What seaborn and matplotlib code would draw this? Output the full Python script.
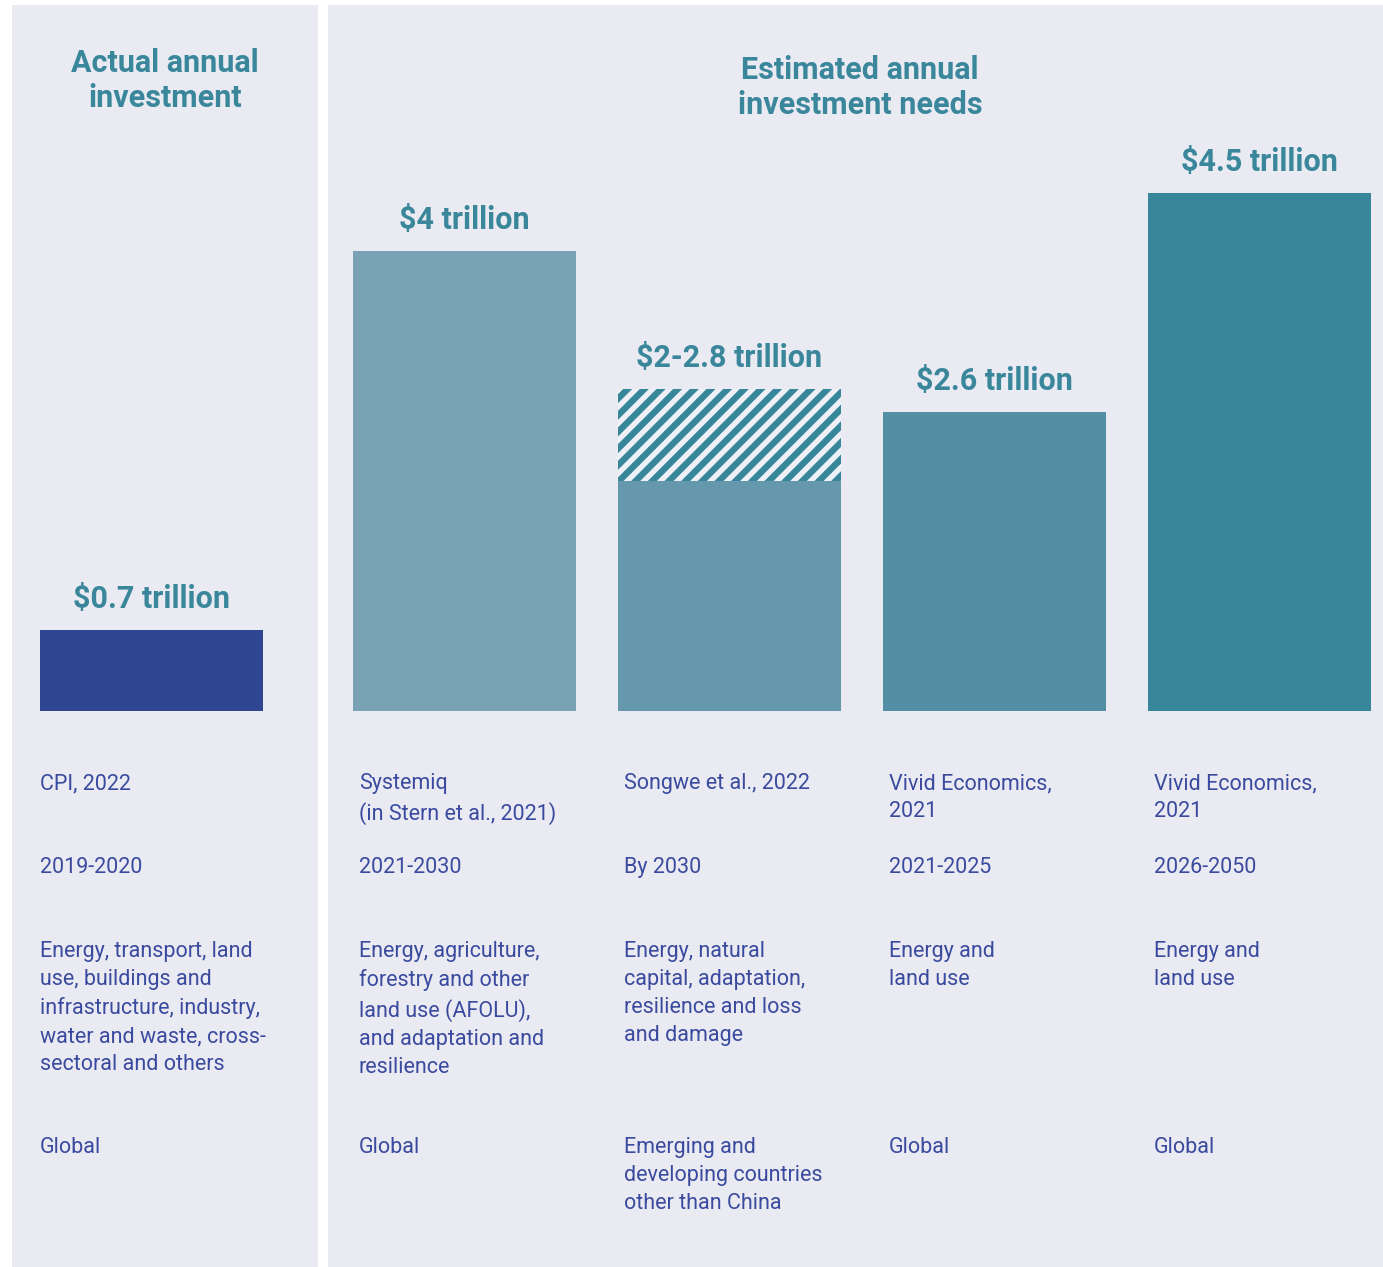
import matplotlib
matplotlib.use("Agg")
import matplotlib.pyplot as plt
import seaborn as sns
import pandas as pd

# ---- data -------------------------------------------------------------
actual_period = ["2019-2020"]
actual_value = [0.7]
actual_label = ["$0.7 trillion"]

need_period = ["2021-2030", "By 2030", "2021-2025", "2026-2050"]
need_low = [4.0, 2.0, 2.6, 4.5]
need_high = [4.0, 2.8, 2.6, 4.5]
need_label = ["$4 trillion", "$2-2.8 trillion", "$2.6 trillion", "$4.5 trillion"]

sources = ["CPI, 2022",
           "Systemiq\n(in Stern et al., 2021)",
           "Songwe et al., 2022",
           "Vivid Economics,\n2021",
           "Vivid Economics,\n2021"]
periods = actual_period + need_period
sectors = ["Energy, transport, land\nuse, buildings and\ninfrastructure, industry,\nwater and waste, cross-\nsectoral and others",
           "Energy, agriculture,\nforestry and other\nland use (AFOLU),\nand adaptation and\nresilience",
           "Energy, natural\ncapital, adaptation,\nresilience and loss\nand damage",
           "Energy and\nland use",
           "Energy and\nland use"]
regions = ["Global", "Global",
           "Emerging and\ndeveloping countries\nother than China",
           "Global", "Global"]

actual_color = ["#2F4592"]
need_colors = ["#79A2B5", "#6698AD", "#528FA5", "#37869A"]
title_color = "#3A879C"
text_color = "#3A4A9E"
hatch_color = "#37869A"

# ---- styling ----------------------------------------------------------
sns.set_theme(style="dark")
plt.rcParams["font.family"] = ["Roboto", "DejaVu Sans"]
plt.rcParams["hatch.linewidth"] = 4.6

W, H = 1383, 1267
fig = plt.figure(figsize=(W / 100, H / 100), dpi=100)
fig.patch.set_facecolor("white")


def px_axes(x0, y0, x1, y1):
    return fig.add_axes([x0 / W, 1 - y1 / H, (x1 - x0) / W, (y1 - y0) / H])


ax1 = px_axes(12, 5, 318, 1267)
ax2 = px_axes(328, 5, 1383, 1267)

YLIM = (-4.835, 6.139)
BAR_W = 0.8415

# actual investment panel
df_a = pd.DataFrame({"period": actual_period, "value": actual_value})
sns.barplot(data=df_a, x="period", y="value", hue="period", palette=actual_color,
            legend=False, width=BAR_W, saturation=1, linewidth=0, ax=ax1)
ax1.set_xlim(-0.526, 0.628)

# investment needs panel: hatched range first, solid lower bound on top
df_n = pd.DataFrame({"period": need_period, "low": need_low, "high": need_high})
sns.barplot(data=df_n, x="period", y="high", color="#EFF0F7", saturation=1,
            width=BAR_W, linewidth=0, edgecolor=hatch_color, ax=ax2)
for p, lo, hi in zip(ax2.patches, need_low, need_high):
    if hi > lo:
        p.set_hatch("//")
        p.set_edgecolor(hatch_color)
    else:
        p.set_visible(False)
n_hatched = len(ax2.patches)
sns.barplot(data=df_n, x="period", y="low", hue="period", palette=need_colors,
            legend=False, width=BAR_W, saturation=1, linewidth=0, ax=ax2)
ax2.set_xlim(-0.515, 3.466)

for ax in (ax1, ax2):
    ax.set_ylim(*YLIM)
    ax.set_xlabel("")
    ax.set_ylabel("")
    ax.set_xticks([])
    ax.set_yticks([])
    for s in ax.spines.values():
        s.set_visible(False)
    ax.set_facecolor("#EAEAF2")

# value labels above each bar
for i, (v, lab) in enumerate(zip(actual_value, actual_label)):
    ax1.annotate(lab, (i, v), xytext=(0, 16), textcoords="offset points",
                 ha="center", va="baseline", fontsize=22, fontweight="bold",
                 color=title_color)
for i, (v, lab) in enumerate(zip(need_high, need_label)):
    ax2.annotate(lab, (i, v), xytext=(0, 16), textcoords="offset points",
                 ha="center", va="baseline", fontsize=22, fontweight="bold",
                 color=title_color)

# panel headings (anchored on the baseline of their last line)
ax1.text((165 - 12) / 306, 1 - 102 / 1262, "Actual annual\ninvestment",
         transform=ax1.transAxes, ha="center", va="baseline", fontsize=22,
         fontweight="bold", color=title_color, linespacing=1.22)
ax2.text((860 - 328) / 1055, 1 - 109 / 1262, "Estimated annual\ninvestment needs",
         transform=ax2.transAxes, ha="center", va="baseline", fontsize=22,
         fontweight="bold", color=title_color, linespacing=1.22)

# descriptive rows under the bars
bar_lefts = [(ax1, ax1.patches[0], 0)]
solid = ax2.patches[n_hatched:]
bar_lefts += [(ax2, p, 6) for p in solid]

row_top = [773, 857, 941, 1137]
for col, (ax, patch, dx) in enumerate(bar_lefts):
    x_px = ax.transData.transform((patch.get_x(), 0))[0] + dx
    for row, texts in enumerate([sources, periods, sectors, regions]):
        fig.text(x_px / W, 1 - row_top[row] / H, texts[col], ha="left",
                 va="top", fontsize=15.5, color=text_color, linespacing=1.43)

fig.savefig("out.png", dpi=100, facecolor="white")
